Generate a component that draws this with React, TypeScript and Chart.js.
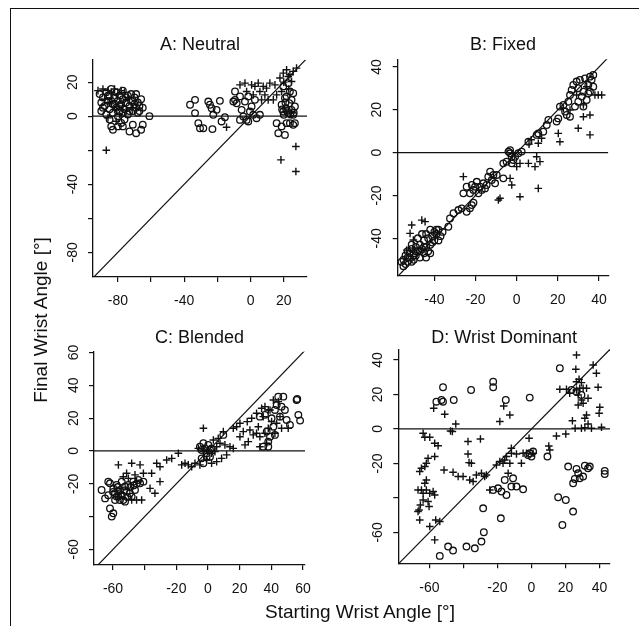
import React, { useEffect, useRef } from 'react';
import { Chart, registerables } from 'chart.js';

Chart.register(...registerables);

type P = [number, number];

// ---------- A: Neutral ----------
const neutralCircles: P[] = [
  [-91, 13], [-90, 8], [-90, 3], [-89, 11], [-88, 6], [-87, 14], [-87, 1], [-86, 9], [-85, 4], [-85, 12],
  [-84, 16], [-83, 7], [-83, 2], [-82, 11], [-81, 14], [-81, 5], [-80, 9], [-80, 0], [-79, 3], [-79, 12],
  [-78, 7], [-77, 15], [-77, 10], [-76, 4], [-76, -2], [-75, 8], [-74, 12], [-74, 1], [-73, 6], [-72, 13],
  [-72, 9], [-71, 3], [-70, 7], [-70, 11], [-69, 5], [-68, 8], [-68, 2], [-67, 6], [-66, 10], [-65, 5],
  [-89, 5], [-86, 12], [-84, 9], [-82, 7], [-79, 6], [-77, 2], [-75, 11], [-73, 3], [-71, 9], [-69, 13],
  [-67, 3], [-85, -2], [-71, -5],
  [-83, -8], [-80, -6], [-77, -6], [-73, -9], [-69, -10], [-66, -8], [-65, -5], [-61, 0], [-84, -6], [-78, -4],
  [-36.5, 6.7], [-33.5, 9.6], [-33.5, 1.8], [-31.5, -4.1], [-30.5, -7.1], [-28.5, -7.1], [-25.5, 8.6], [-24.5, 6.7],
  [-23.5, 4.7], [-22.5, 0.8], [-20.5, 3.7], [-23, -7.6], [-18.5, 9], [-17.5, -3.1], [-15.5, -0.6], [-10.4, 8.6],
  [-9.4, 9.6], [-6.4, -2.2],
  [-9.4, 14.5], [-8.4, 7.6], [-6.4, 11.6], [-5.4, 3.7], [-4.4, -0.2], [-3.4, 8.6], [-2.4, -2.2], [-1.4, 11.6],
  [-0.4, 2.7], [0.6, 5.7], [1.6, 0.8], [2.6, 9.6], [-1.4, -3.1], [3.6, -1.2], [5.6, 0.8],
  [15.7, -4.1], [16.7, -10], [20.7, -11], [18.7, 6.7], [19.7, 2.7], [20, 0.8], [21.3, 4.7], [21.7, 11.6],
  [22.7, 1.8], [23.3, 7.6], [23.7, 14.5], [24.7, 3.7], [25.7, 0.8], [25.7, -5.1], [26.7, 5.7], [26.7, -4.1],
  [23.7, -4.1], [21.7, -4.1], [18.7, -6], [25.7, 13.5], [20.7, 10.6], [19.7, 17.5], [22.7, 19.4], [24.7, 9.6],
  [19, 4], [22, 3], [24, 1], [21, 8], [26, 2],
];
const neutralPluses: P[] = [
  [-92, 15], [-89, 16], [-86, 15], [-84, 14], [-82, 16], [-80, 13], [-78, 15], [-76, 14], [-74, 11], [-88, 10],
  [-85, 8], [-82, 4], [-79, 1], [-77, 6], [-75, 3], [-72, 5], [-86, -1], [-81, -3], [-87, -20],
  [-14.5, -6.5],
  [-6.4, 18.4], [-3.4, 19.4], [0.6, 18.4], [2.6, 17.5], [4.6, 19.4], [5.6, 14.5], [7.6, 17.5], [9.6, 16.5],
  [11.6, 19.4], [14.7, 18.4], [6.6, 9.6], [10.6, 9.6], [13.7, 9.6], [8.6, 12.5], [-2.4, 14.5], [1.6, 12.5],
  [17.7, 22.4], [19.7, 25.3], [21.7, 27.3], [23.7, 24.3], [25.7, 26.3], [27.7, 28.2], [18.7, 14.5], [22.7, 23.3],
  [24.7, 20.4], [15.7, 12.5], [27.3, -17.8], [18.3, -25.7], [27.3, -32.5], [24.7, 1.8], [20, 20], [23, 16],
];
const neutralXRange: P = [-95, 34];
const neutralYRange: P = [-94.5, 33];
const neutralXLabels = [-80, -40, 0, 20];
const neutralYLabels = [20, 0, -40, -80];

// ---------- B: Fixed ----------
const fixedCircles: P[] = [
  [-55, -50], [-54, -48], [-53, -51], [-52, -47], [-52, -49], [-51, -45], [-50, -50], [-50, -47], [-49, -44],
  [-49, -48], [-48, -46], [-47, -43], [-47, -49], [-46, -45], [-45, -41], [-45, -47], [-44, -44], [-43, -40],
  [-43, -46], [-42, -43], [-41, -39], [-40, -41], [-40, -37], [-39, -38], [-38, -36], [-38, -41], [-37, -39],
  [-48, -40], [-46, -38], [-44, -38], [-42, -36], [-53, -46], [-51, -43], [-55, -53], [-54, -52], [-44, -49],
  [-42, -47], [-56, -51], [-53, -49], [-51, -51], [-49, -46], [-47, -46], [-45, -44], [-41, -42], [-39, -36],
  [-36, -37],
  [-33.2, -34.6], [-32.4, -30.7], [-30.7, -28.3], [-28.3, -26.8], [-26.7, -26], [-24.3, -27.6], [-22.7, -26],
  [-21.8, -24.5], [-21, -23.4], [-25.9, -19], [-24.3, -15.9], [-21.8, -15.1], [-21, -17.4], [-19.4, -13.6],
  [-18.6, -19], [-17.8, -15.9], [-17, -17.4], [-16.2, -14.3], [-15.4, -16.7], [-14.6, -15.1], [-13.8, -11.2],
  [-12.9, -8.9], [-12.1, -12.8], [-11.3, -10.4], [-10.5, -14.3], [-9.7, -10.4], [-6.5, -12], [-22.7, -19],
  [-20.2, -15.9],
  [-4, 0.5], [-3.2, 1.2], [-3.2, -0.3], [-2.4, -1.9], [-6.5, -5], [-4.9, -4.2], [-1.6, -3.4], [-0.8, -1.9],
  [0.8, -0.3], [2.4, 0.5], [5.7, 5.1], [-2.4, -5],
  [9.7, 8.3], [10.5, 9], [12.9, 9.8], [14.6, 12.9], [15.4, 15.3], [19.4, 14.5], [20.2, 16], [21, 21.5],
  [22.7, 22.3], [23.5, 19.2], [25.1, 23.8], [25.9, 26.9], [26.7, 29.3], [27.5, 31.6], [29.1, 33.2], [29.9, 30.1],
  [30.7, 34], [31.6, 26.2], [32.4, 28.5], [33.2, 34.7], [34, 24.6], [34.8, 31.6], [35.6, 35.5], [36.4, 34],
  [37.2, 36.3], [37.2, 30.8], [35.6, 28.5], [28.3, 21.5], [29.9, 23.8], [32.4, 21.5], [24.3, 17.6], [25.9, 16.8],
  [34.8, 27.7],
];
const fixedPluses: P[] = [
  [-51, -33.8], [-51.8, -37.7], [-46.1, -31.5], [-44.5, -32.2], [-50.2, -40.8], [-53.4, -45.5], [-25.9, -11.2],
  [-8.1, -21.3], [-8.9, -22.1], [-2.4, -15.1], [1.6, -20.6], [-3.2, -12], [0, -6.5], [1.6, -5], [8.9, -6.5],
  [9.7, -1.9], [11.3, -4.2], [10.5, -16.7], [10.5, 4.4], [12.1, 6.7], [20.2, 9], [21, 5.1], [5.7, -5], [6, 4],
  [7, 6], [32.4, 16.8], [29.9, 11.4], [35.6, 17.6], [35.6, 8.3], [32.4, 22.3], [39.6, 26.9], [41.3, 26.9],
  [38, 26.9], [34, 30.8], [25.9, 19.9], [22.7, 20.7], [29.1, 26.9],
];
const fixedXRange: P = [-57.8, 44.5];
const fixedYRange: P = [-57.6, 43.6];
const fixedXLabels = [-40, -20, 0, 20, 40];
const fixedYLabels = [40, 20, 0, -20, -40];

// ---------- C: Blended ----------
const blendedCircles: P[] = [
  [-67.2, -23.8], [-65, -28.9], [-63, -18.7], [-61.9, -35], [-60.8, -40], [-59.8, -38], [-59.8, -22.8],
  [-58.7, -25.8], [-57.7, -20.7], [-56.6, -27.8], [-55.6, -23.8], [-54.5, -18.7], [-53.5, -29.9], [-52.4, -30.9],
  [-51.4, -24.8], [-50.3, -20.7], [-49.3, -25.8], [-48.2, -27.8], [-47.2, -18.7], [-46.1, -23.8], [-44, -17.7],
  [-42.9, -19.7], [-40.8, -18.7], [-57.7, -27.8], [-56.6, -24.8], [-54.5, -26.8], [-52.4, -21.7], [-61.9, -19.7],
  [-58.7, -29.9], [-55.6, -29.9], [-63, -27], [-60, -25], [-57, -22], [-55, -27], [-53, -24], [-51, -28],
  [-49, -22], [-47, -21], [-45, -20],
  [-5.1, 2.6], [-4, 0.6], [-2.9, 4.7], [-1.9, 1.6], [-0.8, -1.4], [0.2, 3.7], [1.3, 0.6], [2.3, 1.6],
  [-0.8, -3.5], [-4, -4.5], [-2.9, -7.5], [1.3, -3.5], [9.7, 9.8],
  [32.8, 20.9], [36, 22], [37.1, 11.8], [38.1, 5.7], [40.2, 19.9], [41.3, 14.8], [42.3, 25], [43.4, 28],
  [44.4, 33.1], [45.5, 20.9], [46.5, 27], [47.6, 33.1], [48.6, 25], [49.7, 18.9], [51.8, 15.9], [56, 31.1],
  [57.1, 22], [58.2, 18.5], [56.4, 31.7], [39.2, 8.7], [42.3, 9.8], [34.9, 2.6], [38.1, 2.6],
];
const blendedPluses: P[] = [
  [-56.6, -8.5], [-48.2, -7.5], [-42.9, -8.5], [-32.4, -7.5], [-30.3, -9.6], [-26.1, -5.5], [-22.9, -4.5],
  [-18.7, -1.4], [-36.6, -22.8], [-33.5, -25.8], [-30.3, -18.7], [-35.6, -13.6], [-51.4, -13.6], [-53.5, -15.7],
  [-48.2, -29.9], [-45.1, -29.9], [-41.9, -29.9], [-50.3, -16.7], [-46.1, -14.6], [-45.1, -18.7], [-40.8, -13.6],
  [-16.6, -8.5], [-14.5, -7.5], [-12.4, -8.5], [-10.3, -9.6], [-8.2, -7.5], [-5.1, -8.5], [-0.8, -5.5],
  [2.3, -7.5], [5.5, -6.5], [8.6, -4.5], [11.8, -2.4], [13.9, 2.6], [10.7, 3.7], [5.5, 2.6], [7.6, 4.7],
  [-2.9, 13.8], [3.4, 6.7], [6.5, 7.7], [9.7, 11.8], [16, 13.8], [-6.1, 1.6], [-2.9, -0.4], [0.2, 0.6],
  [2.3, -1.4], [4.4, -0.4],
  [18.1, 14.8], [20.2, 16.9], [22.3, 11.8], [24.8, 17.9], [26.5, 12.8], [27.6, 19.9], [28.6, 9.8], [30.7, 23],
  [31.8, 14.8], [32.8, 8.7], [33.9, 26], [34.9, 20.9], [36, 10.8], [37.1, 4.7], [38.1, 13.8], [39.2, 25],
  [40.2, 17.9], [41.3, 31.1], [42.3, 10.8], [43.4, 16.9], [44.4, 30.1], [45.5, 20.9], [46.5, 13.8], [50.7, 13.8],
  [20.2, 8.7], [25.5, 5.7], [32.8, 2.6], [23.4, 3.7], [16, 1.6], [36, 27], [38.1, 25], [30.7, 10.8],
];
const blendedXRange: P = [-72, 61.3];
const blendedYRange: P = [-69.5, 60.5];
const blendedXLabels = [-60, -20, 0, 20, 40, 60];
const blendedYLabels = [60, 40, 20, 0, -20, -60];

// ---------- D: Wrist Dominant ----------
const wristCircles: P[] = [
  [-53.9, -73.6], [-49, -68.2], [-46.1, -70.5], [-38.2, -68.2], [-33.3, -69.2], [-29.4, -65.3], [-28, -59.9],
  [-28.4, -46], [-18, -51.8], [-22.5, -35.4], [-19.6, -34.4], [-17.6, -36.3], [-14.7, -38.3], [-15.7, -29.6],
  [-10.8, -28.6], [-8.8, -33.4], [-4.9, -35], [-11.8, -33.4],
  [-52, 24.2], [-52.9, 16.8], [-55.9, 15.8], [-52, 15.8], [-45.7, 16.8], [-35.5, 22.6], [-22.5, 27.4],
  [-22.5, 24.2], [-15.1, 16.8], [-1, 18.2],
  [-1, -14.1], [0, -16], [-2, -15.1], [9.4, -16], [1, -13.1],
  [16.7, 35.2], [21.6, -21.8], [26.5, -23.2], [27.5, -25.7], [28.4, -28.6], [25.5, -29], [30.4, -27.6],
  [31.4, -21.3], [33.3, -22.8], [34.3, -21.8], [43.1, -24.3], [43.1, -26.1], [24.5, -31.5], [15.7, -39.6],
  [20.2, -41.2], [24.5, -47.9], [18.2, -55.7], [26.5, 21.6], [23.5, 22.6], [29.4, 19.7],
];
const wristPluses: P[] = [
  [-65.7, -52.8], [-66.1, -47], [-65.3, -44.1], [-63.7, -41.2], [-66.7, -35.4], [-64.7, -35.4], [-61.8, -35.4],
  [-62.7, -31.5], [-61.8, -29.6], [-65.7, -24.7], [-64.7, -22.8], [-62.7, -21.8], [-61.8, -19.9], [-60.8, -17],
  [-56.9, -16], [-63.7, -2.5], [-62.7, -4.8], [-59.8, -4.8], [-56.9, -8.3], [-54.9, -9.7], [-59.8, -37.3],
  [-57.8, -36.3], [-56.9, -38.3], [-63.7, -37.3], [-60.8, -42.1], [-60.2, -45], [-66.7, -47.9], [-59.8, -56.6],
  [-56.3, -52.8], [-53.9, -53.7], [-56.9, -64.3],
  [-57.5, 12], [-51, 8.5], [-44.5, 2.9], [-47.6, -1.2], [-46.5, -1.5],
  [-51.4, -23.8], [-46.1, -25.1], [-43.1, -27.6], [-40.2, -27.6], [-37.3, -7.3], [-37.3, -14.5], [-36.7, -19.5],
  [-35.3, -19.9], [-30, -5.8], [-36.3, -29.6], [-34.3, -30.5], [-32.4, -26.7], [-29.4, -25.7], [-27.5, -27.6],
  [-26.5, -26.7], [-24.5, -35.4], [-20.6, -20.9], [-18.6, -18.9], [-16.7, -19.9], [-15.7, -18], [-14.7, -16],
  [-12.7, -19.9], [-11.8, -11.2], [-11.8, -14.1], [-8.8, -14.5], [-5.9, -19.9], [-12.7, 8.1], [-16.3, 13.3],
  [-18.6, 4.3], [-13.7, -25.7], [-4.9, -14.1], [-1.4, -5.4], [-2.9, -14.1], [1, -14.1], [10.2, -9.9],
  [10.8, -12.2], [14.7, -4.1], [20.2, -2.9],
  [26.5, 42.9], [26.1, 34.6], [28, 28.8], [16.7, 23], [20.6, 23], [22.5, 20.7], [26.5, 22.6], [28.4, 23.6],
  [30.4, 23.6], [32.4, 23.6], [27.5, 19.7], [29.4, 16.8], [30.4, 14.9], [27.5, 13.9], [33.3, 17.8], [36.3, 37.1],
  [38.2, 32.3], [39.2, 24.2], [40.2, 12.6], [39.8, 9.1], [32.4, 8.1], [31.4, 6.2], [24.1, 4.8], [25.7, 0.4],
  [29.4, 0.4], [31.4, 0.8], [33.3, 2.9], [35.3, 0.4], [41.2, 1], [26.5, 27.4], [29.4, 26.9],
];
const wristXRange: P = [-78.3, 46.2];
const wristYRange: P = [-77.9, 46.2];
const wristXLabels = [-60, -20, 0, 20, 40];
const wristYLabels = [40, 20, 0, -20, -60];

const FONT = "'Liberation Sans', Arial, Helvetica, sans-serif";
const INK = '#111111';

interface Spec {
  title: string;
  circles: P[];
  pluses: P[];
  xRange: P;
  yRange: P;
  xLabels: number[];
  yLabels: number[];
  canvas: { left: number; top: number; width: number; height: number };
  area: { left: number; top: number; right: number; bottom: number };
  titleY: number;
}

const specs: Spec[] = [
  {
    title: 'A: Neutral', circles: neutralCircles, pluses: neutralPluses,
    xRange: neutralXRange, yRange: neutralYRange, xLabels: neutralXLabels, yLabels: neutralYLabels,
    canvas: { left: 43, top: 18, width: 280, height: 302 },
    area: { left: 93, top: 60, right: 307, bottom: 277 }, titleY: 45,
  },
  {
    title: 'B: Fixed', circles: fixedCircles, pluses: fixedPluses,
    xRange: fixedXRange, yRange: fixedYRange, xLabels: fixedXLabels, yLabels: fixedYLabels,
    canvas: { left: 347, top: 18, width: 280, height: 302 },
    area: { left: 397.7, top: 59.3, right: 608.3, bottom: 276 }, titleY: 45,
  },
  {
    title: 'C: Blended', circles: blendedCircles, pluses: blendedPluses,
    xRange: blendedXRange, yRange: blendedYRange, xLabels: blendedXLabels, yLabels: blendedYLabels,
    canvas: { left: 44, top: 320, width: 280, height: 300 },
    area: { left: 94, top: 351.7, right: 305, bottom: 565 }, titleY: 338,
  },
  {
    title: 'D: Wrist Dominant', circles: wristCircles, pluses: wristPluses,
    xRange: wristXRange, yRange: wristYRange, xLabels: wristXLabels, yLabels: wristYLabels,
    canvas: { left: 348, top: 320, width: 280, height: 300 },
    area: { left: 398.3, top: 349.3, right: 610, bottom: 563.3 }, titleY: 338,
  },
];

function Panel({ spec }: { spec: Spec }) {
  const ref = useRef<HTMLCanvasElement>(null);
  useEffect(() => {
    const c = spec.canvas;
    const a = spec.area;
    const yW = a.left - c.left;
    const padR = c.left + c.width - a.right;
    const xH = c.top + c.height - a.bottom;
    const tSize = 18;
    const tLH = tSize * 1.2;
    const tPadTop = spec.titleY - c.top - tLH / 2;
    const tPadBottom = Math.max(0, a.top - c.top - tPadTop - tLH);
    const [x0, x1] = spec.xRange;
    const [y0, y1] = spec.yRange;
    const lo = Math.min(x0, y0);
    const hi = Math.max(x1, y1);
    const tickFont = { family: FONT, size: 14 };
    const gridOpts = { display: true, drawOnChartArea: false, drawTicks: true, tickLength: 5, color: INK, lineWidth: 1.2 };
    const borderOpts = { display: true, color: INK, width: 1.3 };
    const chart = new Chart(ref.current as HTMLCanvasElement, {
      type: 'scatter',
      data: {
        datasets: [
          {
            data: [{ x: x0, y: 0 }, { x: x1, y: 0 }],
            showLine: true, borderColor: INK, borderWidth: 1.3, pointRadius: 0,
          },
          {
            data: [{ x: lo, y: lo }, { x: hi, y: hi }],
            showLine: true, borderColor: INK, borderWidth: 1.2, pointRadius: 0,
          },
          {
            data: spec.circles.map(([x, y]) => ({ x, y })),
            pointStyle: 'circle', pointRadius: 3.3, pointBorderWidth: 1.3,
            pointBorderColor: INK, pointBackgroundColor: 'rgba(255,255,255,0)',
            borderColor: INK, backgroundColor: 'rgba(255,255,255,0)',
          },
          {
            data: spec.pluses.map(([x, y]) => ({ x, y })),
            pointStyle: 'cross', pointRadius: 3.8, pointBorderWidth: 1.4,
            pointBorderColor: INK, borderColor: INK,
          },
        ],
      } as any,
      options: {
        animation: false,
        responsive: false,
        devicePixelRatio: 1,
        layout: { padding: { left: 0, top: 0, right: padR, bottom: 0 }, autoPadding: false },
        plugins: {
          legend: { display: false },
          tooltip: { enabled: false },
          title: {
            display: true, text: spec.title, fullSize: false, color: INK,
            font: { family: FONT, size: tSize, weight: 'normal', lineHeight: 1.2 },
            padding: { top: tPadTop, bottom: tPadBottom },
          },
        },
        scales: {
          x: {
            type: 'linear', min: x0, max: x1,
            ticks: {
              stepSize: 20, includeBounds: false, autoSkip: false, maxRotation: 0, minRotation: 0,
              padding: 11, font: tickFont, color: INK,
              callback: (v: any) => (spec.xLabels.includes(Number(v)) ? String(v) : ''),
            },
            grid: gridOpts, border: borderOpts,
            afterFit: (s: any) => { s.height = xH; },
          },
          y: {
            type: 'linear', min: y0, max: y1,
            ticks: {
              stepSize: 20, includeBounds: false, autoSkip: false, minRotation: 90, maxRotation: 90,
              crossAlign: 'center', padding: 5, font: tickFont, color: INK,
              callback: (v: any) => (spec.yLabels.includes(Number(v)) ? String(v) : ''),
            },
            grid: gridOpts, border: borderOpts,
            afterFit: (s: any) => { s.width = yW; },
          },
        },
      } as any,
    });
    return () => chart.destroy();
  }, [spec]);
  const c = spec.canvas;
  return (
    <canvas
      ref={ref}
      width={c.width}
      height={c.height}
      style={{ position: 'absolute', left: c.left, top: c.top, width: c.width, height: c.height }}
    />
  );
}

export default function App() {
  return (
    <div style={{ position: 'absolute', left: 0, top: 0, width: 639, height: 626, background: '#fff', overflow: 'hidden' }}>
      <div
        style={{
          position: 'absolute', left: 10, top: 8, width: 640, height: 640,
          borderTop: `1px solid ${INK}`, borderLeft: `1px solid ${INK}`,
        }}
      />
      {specs.map((s) => (
        <Panel key={s.title} spec={s} />
      ))}
      <div
        style={{
          position: 'absolute', left: 210, top: 600, width: 300, height: 24, lineHeight: '24px',
          textAlign: 'center', fontFamily: FONT, fontSize: 19, color: INK, whiteSpace: 'nowrap',
        }}
      >
        Starting Wrist Angle [°]
      </div>
      <div
        style={{
          position: 'absolute', left: 41 - 150, top: 320 - 12, width: 300, height: 24, lineHeight: '24px',
          textAlign: 'center', fontFamily: FONT, fontSize: 19, color: INK, whiteSpace: 'nowrap',
          transform: 'rotate(-90deg)', transformOrigin: '50% 50%',
        }}
      >
        Final Wrist Angle [°]
      </div>
    </div>
  );
}
